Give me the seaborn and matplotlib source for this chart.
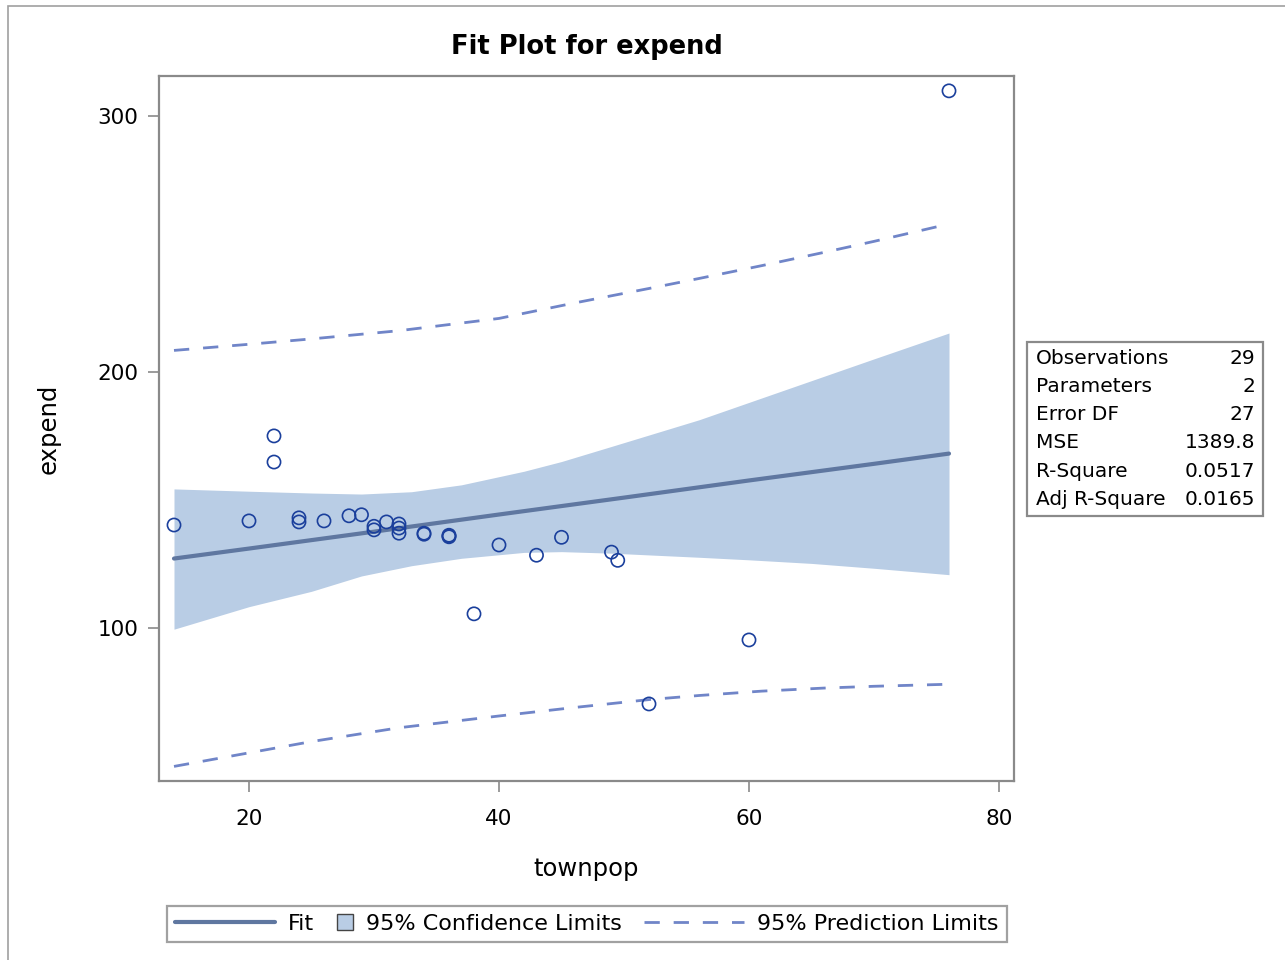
import matplotlib
matplotlib.use("Agg")
import matplotlib.pyplot as plt
import seaborn as sns
import pandas as pd
from matplotlib.patches import Rectangle
from matplotlib.lines import Line2D
from matplotlib.legend_handler import HandlerBase

# ---- data ----
townpop = [14, 20, 22, 22, 24, 24, 26, 28, 29, 30, 30, 31, 32, 32, 32,
           34, 34, 36, 36, 36, 38, 40, 43, 45, 49, 49.5, 52, 60, 76]
expend = [140.2, 141.8, 175.0, 164.8, 143.0, 141.4, 141.8, 143.8, 144.2, 139.7, 138.3, 141.4, 140.6, 139.0, 137.0,
          137.0, 136.6, 136.2, 135.6, 135.9, 105.5, 132.4, 128.4, 135.4, 129.6, 126.4, 70.3, 95.3, 309.8]

fit_x = [14, 20, 30, 40, 50, 60, 70, 76]
fit_y = [127.1, 131.0, 137.6, 144.3, 150.9, 157.6, 164.1, 168.1]

ci_x = [14, 20, 25, 29, 33, 37, 42, 45, 49, 56, 60, 65, 70, 76]
ci_upper = [154.3, 153.4, 152.7, 152.3, 153.2, 155.9, 161.2, 165.0, 170.9, 181.3, 188.1, 196.6, 205.1, 215.2]
ci_lower = [99.5, 108.3, 114.3, 120.3, 124.3, 127.2, 129.5, 129.8, 129.2, 127.6, 126.6, 125.2, 123.3, 120.8]

pi_x = [14, 20, 25, 32, 40, 46, 52, 56, 61, 66, 70, 76]
pi_upper = [208.4, 210.8, 212.9, 216.1, 220.9, 226.9, 232.6, 236.5, 241.5, 246.7, 251.0, 257.8]
pi_lower = [45.9, 51.2, 55.6, 61.0, 65.6, 68.9, 72.0, 73.6, 75.3, 76.5, 77.2, 78.0]

stat_names = ["Observations", "Parameters", "Error DF", "MSE", "R-Square", "Adj R-Square"]
stat_values = ["29", "2", "27", "1389.8", "0.0517", "0.0165"]

x_ticks = [20, 40, 60, 80]
y_ticks = [100, 200, 300]

# ---- style ----
sns.set_style("white")
plt.rcParams['font.family'] = ['DejaVu Sans']
plt.rcParams['text.color'] = 'black'
plt.rcParams['axes.labelcolor'] = 'black'
plt.rcParams['xtick.color'] = 'black'
plt.rcParams['ytick.color'] = 'black'

C_PT = '#1a3f9c'
C_FIT = '#5f77a0'
C_CI = '#b9cde5'
C_PI = '#7085c8'
C_FRAME = '#8a8a8a'
DASH = (0, (5.5, 5.0))

W, H = 1285, 960
fig = plt.figure(figsize=(W / 100, H / 100), dpi=100)
fig.patch.set_facecolor('white')

# outer border
fig.add_artist(Rectangle((8 / W, -0.05), 1.2, 1 - 6 / H + 0.05, transform=fig.transFigure,
                         fill=False, ec='#a0a0a0', lw=1.2))

ax = fig.add_axes([159 / W, 1 - 781 / H, (1014 - 159) / W, (781 - 76) / H])

pts = pd.DataFrame({"townpop": townpop, "expend": expend})
fit = pd.DataFrame({"x": fit_x, "y": fit_y})
pi = pd.DataFrame({"x": pi_x, "lo": pi_lower, "hi": pi_upper})

ax.fill_between(ci_x, ci_lower, ci_upper, color=C_CI, lw=0, zorder=1)
sns.lineplot(data=fit, x="x", y="y", ax=ax, color=C_FIT, linewidth=3.0, zorder=2)
sns.lineplot(data=pi, x="x", y="hi", ax=ax, color=C_PI, linewidth=2.0,
             linestyle=DASH, zorder=2)
sns.lineplot(data=pi, x="x", y="lo", ax=ax, color=C_PI, linewidth=2.0,
             linestyle=DASH, zorder=2)
sns.scatterplot(data=pts, x="townpop", y="expend", ax=ax, s=90, facecolor='none',
                edgecolor=C_PT, linewidth=1.2, zorder=3)

ax.set_xlim(12.8, 81.2)
ax.set_ylim(40.2, 315.6)
ax.set_xticks(x_ticks)
ax.set_yticks(y_ticks)
ax.tick_params(axis='both', which='both', direction='out', length=8, width=1.2,
               color=C_FRAME, labelsize=15.5, labelcolor='black', bottom=True, left=True)
ax.tick_params(axis='x', pad=12)
ax.tick_params(axis='y', pad=7)
for sp in ax.spines.values():
    sp.set_color(C_FRAME)
    sp.set_linewidth(1.6)
ax.set_xlabel("townpop", fontsize=17.5, labelpad=20, color='black')
ax.set_ylabel("expend", fontsize=17.5, labelpad=26, color='black')
ax.set_title("Fit Plot for expend", fontsize=18.5, fontweight='bold', pad=16, color='black')

# ---- statistics box ----
bx0, bx1, by0, by1 = 1027, 1263, 342, 516
fig.add_artist(Rectangle((bx0 / W, 1 - by1 / H), (bx1 - bx0) / W, (by1 - by0) / H,
                         transform=fig.transFigure, fill=False, ec=C_FRAME, lw=1.6))
for i, (n, v) in enumerate(zip(stat_names, stat_values)):
    yc = 358 + i * 28.3
    fig.text(1036 / W, 1 - yc / H, n, ha='left', va='center', fontsize=14.5, color='black')
    fig.text(1255 / W, 1 - yc / H, v, ha='right', va='center', fontsize=14.5, color='black')


# ---- legend ----
class SquareHandler(HandlerBase):
    def legend_artist(self, legend, orig_handle, fontsize, handlebox):
        s = 0.72 * fontsize
        handlebox.width = s
        yc = (handlebox.height - handlebox.ydescent) / 2
        r = Rectangle((0, yc - s / 2), s, s, fc=C_CI, ec='#444444', lw=1.0,
                      transform=handlebox.get_transform())
        handlebox.add_artist(r)
        return r


h_fit = Line2D([], [], color=C_FIT, lw=3.0)
h_ci = Rectangle((0, 0), 1, 1, fc=C_CI, ec='#444444')
h_pi = Line2D([], [], color=C_PI, lw=2.0, linestyle=DASH)
leg = fig.legend([h_fit, h_ci, h_pi], ["Fit", "95% Confidence Limits", "95% Prediction Limits"],
                 loc='center', bbox_to_anchor=(587 / W, 1 - 924 / H), ncol=3, fontsize=16,
                 frameon=True, fancybox=False, edgecolor=C_FRAME, handlelength=4.5,
                 handletextpad=0.6, columnspacing=1.0, borderpad=0.35,
                 handler_map={Rectangle: SquareHandler()})
leg.get_frame().set_linewidth(1.6)
for t in leg.get_texts():
    t.set_color('black')

fig.savefig("out.png", dpi=100, facecolor='white')
